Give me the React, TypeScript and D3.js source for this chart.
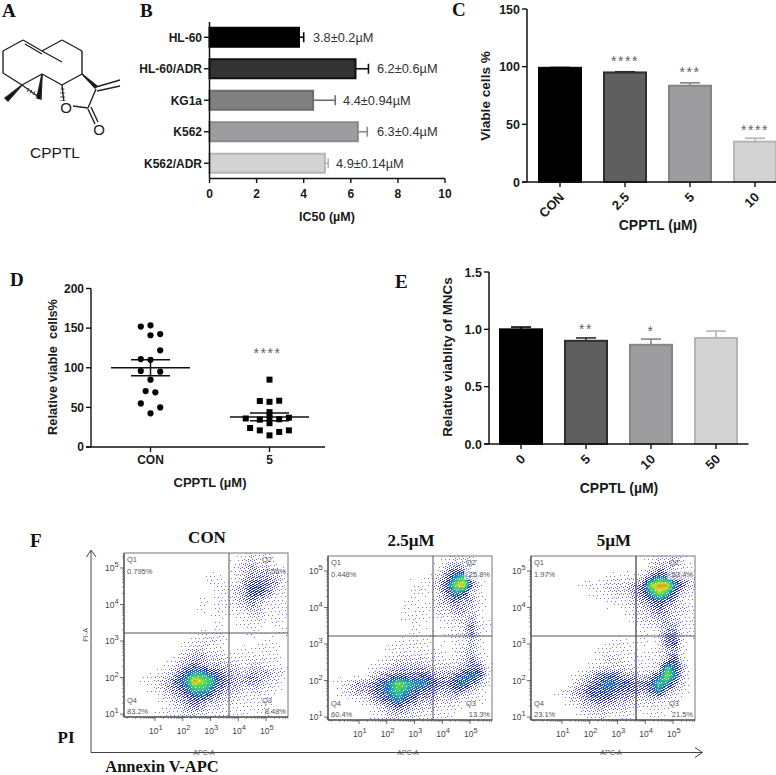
import React, { useMemo } from "react";
import * as d3 from "d3";

const SANS = "'Liberation Sans', Arial, sans-serif";
const SERIF = "'Liberation Serif', 'Times New Roman', serif";

// ---------- data ----------
const icLines = ["HL-60", "HL-60/ADR", "KG1a", "K562", "K562/ADR"];
const icValues = [3.8, 6.2, 4.4, 6.3, 4.9];
const icErrors = [0.2, 0.55, 0.94, 0.4, 0.14];
const icLabels = ["3.8±0.2µM", "6.2±0.6µM", "4.4±0.94µM", "6.3±0.4µM", "4.9±0.14µM"];
const icLabelGaps = [4.39, 7.11, 5.67, 7.11, 5.37];

const viableDoses = ["CON", "2.5", "5", "10"];
const viableValues = [99, 95, 83.5, 35];
const viableErrors = [0.3, 0.6, 2.5, 3];
const viableStars = ["", "****", "***", "****"];
const viableStarLevels = [0, 106, 96, 46];

const relGroups = ["CON", "5"];
const conValues = [152, 153.5, 141, 142.5, 122, 111, 110, 96, 95, 85, 70.6, 69, 55, 50, 42.5];
const conColumns = [-1, 0, 0, 1, 1, -1, 0, -1, 1, 0, -0.5, 0.5, -1, 1, 0];
const cp5Values = [85, 58, 57, 58.4, 44, 36, 34.5, 37, 35, 37, 30, 24, 21, 21, 19, 14.7];
const cp5Columns = [0, -1, 0, 1, 0, -2.45, -1, 0, 1, 2, 0, -2, -1, 2, 1, 0];
const relMeans = [100, 38];
const relSems = [10, 5];

const mncDoses = ["0", "5", "10", "50"];
const mncValues = [1.0, 0.9, 0.865, 0.925];
const mncErrors = [0.02, 0.025, 0.05, 0.06];
const mncStars = ["", "**", "*", ""];
const mncStarLevels = [0, 1.015, 0.995, 0];

const barFills = ["#000000", "#333333", "#808080", "#9d9d9f", "#d3d3d3"];
const barStrokes = ["#000000", "#111111", "#6e6e6e", "#8a8a8c", "#b5b5b5"];
const fiveFills = ["#000000", "#5f5f5f", "#9d9d9f", "#d3d3d3"];
const fiveStrokes = ["#000000", "#2e2e2e", "#858587", "#b5b5b5"];

const flowTitles = ["CON", "2.5µM", "5µM"];
const flowQ1 = ["0.795%", "0.448%", "1.97%"];
const flowQ2 = ["7.56%", "25.8%", "53.4%"];
const flowQ3 = ["8.48%", "13.3%", "21.5%"];
const flowQ4 = ["83.2%", "60.4%", "23.1%"];

// estimated event density (0–9) over a 20×20 grid
const densityCon = [
  "00000000000000121100",
  "00000000000001232210",
  "00000000001001233321",
  "00000000001111344431",
  "00000000000112355421",
  "00000000010112343211",
  "00000000010111232111",
  "00000000000101122111",
  "00000000000100111010",
  "00000000010100011001",
  "00000000112100000100",
  "00000001221100101110",
  "00000012332211111110",
  "00000123432322122110",
  "00001235665433233321",
  "00112356987543343220",
  "00012345776433222110",
  "00001234554322111100",
  "00000123432211111100",
  "00001112221111101100",
];
const density25 = [
  "00000000000000122100",
  "00000000000001343100",
  "00000000000012467310",
  "00000000001113589410",
  "00000000001102465210",
  "00000000011012343310",
  "00000000010112233210",
  "00000000011101122310",
  "00000000001000112411",
  "00000000001010112410",
  "00000000111100011310",
  "00000001111111012310",
  "00000011222211112420",
  "00000112333322223441",
  "00000234444543345651",
  "01233456876654456431",
  "01233456765443343210",
  "00011345654332221110",
  "00000123432221110000",
  "00000112222111100000",
];
const density5 = [
  "00000000000000122210",
  "00000000000000233211",
  "00000000011112465432",
  "00000011122234899642",
  "00000001112234687421",
  "00000000011123454311",
  "00000000000112343221",
  "00000000000012233211",
  "00000000000001123311",
  "00000000000001014411",
  "00000000011101014510",
  "00000000111110113310",
  "00000000122111113510",
  "00000001222211127530",
  "00000123454332358620",
  "00000234565544576420",
  "00012345554443463210",
  "00001234443322221100",
  "00000122322211111000",
  "00000011211110110000",
];
const flowGrids = [densityCon, density25, density5];
const flowLefts = [124, 328, 531];
const flowTops = [553, 556, 556];
const flowDecades = [1, 2, 3, 4, 5];

// skeletal formula (pixel positions of the drawing, panel A)
const ringBonds = [
  [3, 51, 23, 40], [23, 40, 42, 51], [42, 51, 62, 40], [62, 40, 82, 51], [82, 51, 82, 74],
  [82, 74, 62, 85], [62, 85, 42, 74], [42, 74, 22, 85], [22, 85, 3, 73], [3, 73, 3, 51],
  [25, 44, 42, 54], [42, 51, 62, 62], [42, 74, 40, 98], [22, 85, 40, 98],
  [96, 89, 88, 108], [88, 108, 73, 106], [96, 87, 120, 80], [97, 91, 120, 86],
  [88, 109, 95, 124], [91, 107, 98, 122], [62, 85, 64, 103],
];

// ---------- helpers ----------
const T = ({ x, y, s, w = "bold", a = "middle", f = SANS, c = "#1a1a1a", r, ls, children }: any) => (
  <text x={x} y={y} fontSize={s} fontWeight={w} textAnchor={a} fontFamily={f} fill={c} letterSpacing={ls}
    style={{ whiteSpace: "pre" }}
    transform={r !== undefined ? `rotate(${r} ${x} ${y})` : undefined}>{children}</text>
);

function Stars({ x, y, text }: any) {
  return <T x={x} y={y} s={14} c="#626262" w="normal" ls={1.6}>{text}</T>;
}

function VBars({ cats, vals, errs, fills, strokes, x, y, x0, domainTop, ticks, tickFmt, axisRight, sw = 2 }: any) {
  const yb = y(0);
  return (
    <g>
      {cats.map((c: string, i: number) => {
        const cx = x(c)! + x.bandwidth() / 2;
        return (
          <g key={c}>
            <line x1={cx} x2={cx} y1={y(vals[i])} y2={y(vals[i] + errs[i])} stroke={strokes[i]} strokeWidth={1.6} />
            <line x1={cx - 10} x2={cx + 10} y1={y(vals[i] + errs[i])} y2={y(vals[i] + errs[i])} stroke={strokes[i]} strokeWidth={1.6} />
            <rect x={x(c)! + 1} y={y(vals[i])} width={x.bandwidth() - 2} height={yb - y(vals[i])} fill={fills[i]} stroke={strokes[i]} strokeWidth={sw} />
            <line x1={cx} x2={cx} y1={yb} y2={yb + 5} stroke="#111" strokeWidth={1.4} />
            <T x={cx + 5} y={yb + 16} s={13} a="end" r={-45}>{c}</T>
          </g>
        );
      })}
      <line x1={x0} x2={x0} y1={y(domainTop)} y2={yb} stroke="#111" strokeWidth={1.5} />
      <line x1={x0 - 5} x2={axisRight} y1={yb} y2={yb} stroke="#111" strokeWidth={1.5} />
      {ticks.map((t: number) => (
        <g key={t}>
          <line x1={x0 - 5} x2={x0} y1={y(t)} y2={y(t)} stroke="#111" strokeWidth={1.4} />
          <T x={x0 - 7} y={y(t) + 4.5} s={12.5} a="end">{tickFmt(t)}</T>
        </g>
      ))}
    </g>
  );
}

function FlowPlot({ idx }: { idx: number }) {
  const size = 164;
  const left = flowLefts[idx];
  const top = flowTops[idx];
  const grid = flowGrids[idx];
  const xs = d3.scaleLog().domain([Math.pow(10, -0.117), Math.pow(10, 5.79)]).range([left, left + size]);
  const ys = d3.scaleLog().domain([Math.pow(10, 0.92), Math.pow(10, 5.41)]).range([top + size, top]);
  const gridX = d3.scaleLinear().domain([0, size]).range([-0.5, 19.5]);
  const prob = d3.scaleLinear().domain([0, 1, 2, 3, 4, 5, 6, 9]).range([0, 0.07, 0.16, 0.28, 0.44, 0.62, 0.88, 1]).clamp(true);
  const color = d3.scaleLinear<string>()
    .domain([1, 3, 4.5, 5.5, 6.5, 7.5, 8.3, 9])
    .range(["#7d74f0", "#4040dc", "#1a24bc", "#1f6cc8", "#2fb8a4", "#4fd84c", "#d0e030", "#f0901e"])
    .clamp(true);
  const paths = useMemo(() => {
    const groups = new Map<string, string[]>();
    const cell = (r: number, c: number) =>
      +grid[Math.max(0, Math.min(19, r))][Math.max(0, Math.min(19, c))];
    for (let j = 0; j < size; j++) {
      for (let i = 0; i < size; i++) {
        const gx = gridX(i), gy = gridX(j);
        const c0 = Math.floor(gx), r0 = Math.floor(gy);
        const fx = gx - c0, fy = gy - r0;
        const d =
          cell(r0, c0) * (1 - fx) * (1 - fy) + cell(r0, c0 + 1) * fx * (1 - fy) +
          cell(r0 + 1, c0) * (1 - fx) * fy + cell(r0 + 1, c0 + 1) * fx * fy;
        // ordered dither turns the read density into individual pixels
        const thr = (i * 0.7548776662 + j * 0.5698402910) % 1;
        if (prob(d) > thr) {
          const k = color(Math.round(d * 3) / 3);
          if (!groups.has(k)) groups.set(k, []);
          groups.get(k)!.push(`M${left + i} ${top + j}h1v1h-1z`);
        }
      }
    }
    return Array.from(groups.entries()).map(([k, v]) => [k, v.join("")]);
  }, [idx]);

  const vx = left + 105;
  const hy = top + 80;
  const gray = "#555";
  const majorY = flowDecades.map((d) => Math.pow(10, d));
  const minorY = ys.ticks().filter((t) => !majorY.includes(t));
  const minorX = xs.ticks().filter((t) => !majorY.includes(t) && t >= 1);
  return (
    <g>
      <g filter="url(#soft)">
        {paths.map(([k, d]) => <path key={k} d={d} fill={k} />)}
      </g>
      <rect x={left} y={top} width={size} height={size} fill="none" stroke="#777" strokeWidth={1} />
      <line x1={vx} x2={vx} y1={top} y2={top + size} stroke={gray} strokeWidth={idx === 2 ? 1.4 : 1} />
      <line x1={left} x2={left + size} y1={hy} y2={hy} stroke={gray} strokeWidth={1} />
      <line x1={left} x2={left} y1={top} y2={top + size} stroke="#333" strokeWidth={1} />
      <line x1={left} x2={left + size} y1={top + size} y2={top + size} stroke="#333" strokeWidth={1} />
      {minorY.map((t) => <line key={t} x1={left - 2} x2={left} y1={ys(t)} y2={ys(t)} stroke="#555" strokeWidth={0.6} />)}
      {minorX.map((t) => <line key={t} x1={xs(t)} x2={xs(t)} y1={top + size} y2={top + size + 2} stroke="#555" strokeWidth={0.6} />)}
      {majorY.map((t, i) => (
        <g key={t}>
          <line x1={left - 4} x2={left} y1={ys(t)} y2={ys(t)} stroke="#444" strokeWidth={0.8} />
          <line x1={xs(t)} x2={xs(t)} y1={top + size} y2={top + size + 4} stroke="#444" strokeWidth={0.8} />
          <text x={left - 19} y={ys(t) + 3} fontSize={8.5} fontFamily={SANS} fill="#444">10<tspan dy={-4} fontSize={7.5}>{i + 1}</tspan></text>
          <text x={xs(t) - 6} y={top + size + 17} fontSize={8.5} fontFamily={SANS} fill="#444">10<tspan dy={-4} fontSize={7.5}>{i + 1}</tspan></text>
        </g>
      ))}
      {idx > 0 && <rect x={left + 136} y={top + 14} width={27} height={10} fill="#fff" opacity={0.55} />}
      <T x={left + 3} y={top + 9} s={7.5} w="normal" a="start" c="#555">Q1</T>
      <T x={left + 3} y={top + 21} s={7.5} w="normal" a="start" c="#555">{flowQ1[idx]}</T>
      <T x={left + 138} y={top + 9} s={7.5} w="normal" a="start" c="#555">Q2</T>
      <T x={left + 162} y={top + 21} s={7.5} w="normal" a="end" c="#555">{flowQ2[idx]}</T>
      <T x={left + 3} y={top + 150} s={7.5} w="normal" a="start" c="#555">Q4</T>
      <T x={left + 3} y={top + 161} s={7.5} w="normal" a="start" c="#555">{flowQ4[idx]}</T>
      <T x={left + 138} y={top + 150} s={7.5} w="normal" a="start" c="#555">Q3</T>
      <T x={left + 162} y={top + 161} s={7.5} w="normal" a="end" c="#555">{flowQ3[idx]}</T>
      <T x={left + 80} y={755} s={7} w="normal" c="#555">APC-A</T>
      <T x={left + 83} y={top - 10} s={17} f={SERIF} c="#111">{flowTitles[idx]}</T>
    </g>
  );
}

export default function App() {
  // B
  const bx = d3.scaleLinear().domain([0, 10]).range([209.5, 445]);
  const by = d3.scaleBand().domain(icLines).range([21.5, 179]).paddingInner(0.333).paddingOuter(0.167);
  // C
  const cy = d3.scaleLinear().domain([0, 150]).range([182, 9]);
  const cx = d3.scaleBand().domain(viableDoses).range([527.5, 787.5]).paddingInner(0.323).paddingOuter(0.1615);
  // D
  const dy = d3.scaleLinear().domain([0, 200]).range([447, 288.5]);
  const dx = d3.scaleBand().domain(relGroups).range([91, 329]);
  const colStep = 9.7;
  const conPts = conValues.map((v, i) => ({ v, c: conColumns[i] }));
  const cp5Pts = cp5Values.map((v, i) => ({ v, c: cp5Columns[i] }));
  // E
  const ey = d3.scaleLinear().domain([0, 1.5]).range([444, 272]);
  const ex = d3.scaleBand().domain(mncDoses).range([488.5, 748.5]).paddingInner(0.323).paddingOuter(0.1615);

  return (
    <svg width={776} height={775} style={{ position: "absolute", left: 0, top: 0, background: "#fff" }}>
      <defs>
        <filter id="soft" x="-2%" y="-2%" width="104%" height="104%">
          <feGaussianBlur stdDeviation={0.35} />
        </filter>
      </defs>

      {/* panel letters */}
      <T x={2} y={17} s={19} f={SERIF} a="start" c="#111">A</T>
      <T x={140} y={17} s={19} f={SERIF} a="start" c="#111">B</T>
      <T x={452} y={16} s={19} f={SERIF} a="start" c="#111">C</T>
      <T x={10} y={286} s={19} f={SERIF} a="start" c="#111">D</T>
      <T x={395} y={288} s={19} f={SERIF} a="start" c="#111">E</T>
      <T x={30} y={547} s={19} f={SERIF} a="start" c="#111">F</T>

      {/* A */}
      <g stroke="#222" strokeWidth={1.4} fill="none">
        {ringBonds.map((b, i) => <line key={i} x1={b[0]} y1={b[1]} x2={b[2]} y2={b[3]} />)}
        <path d="M22 85 L5 98 L8 101 Z" fill="#111" />
        <path d="M42 74 L37 98 L41 99 Z" fill="#111" />
        <path d="M82 74 L95 88 L97 86 Z" fill="#111" />
        {[0, 1, 2, 3].map((i) => <line key={i} x1={27 + i * 3} x2={29 + i * 3} y1={92 + i * 1.5} y2={88 + i * 1.5} strokeWidth={0.8} />)}
        {[0, 1, 2, 3].map((i) => <line key={`h${i}`} x1={60.5 - i * 0.3} x2={64.5 + i * 0.3} y1={89 + i * 4} y2={89 + i * 4} strokeWidth={0.8} />)}
      </g>
      <rect x={59} y={101} width={14} height={13} fill="#fff" />
      <T x={66} y={113} s={15} w="normal">O</T>
      <T x={99} y={135} s={15} w="normal">O</T>
      <T x={55} y={158} s={15.5} w="normal">CPPTL</T>

      {/* B */}
      {icLines.map((c, i) => {
        const yy = by(c)!, h = by.bandwidth(), m = yy + h / 2;
        return (
          <g key={c}>
            <line x1={bx(icValues[i])} x2={bx(icValues[i] + icErrors[i])} y1={m} y2={m} stroke={barStrokes[i]} strokeWidth={1.6} />
            <line x1={bx(icValues[i] + icErrors[i])} x2={bx(icValues[i] + icErrors[i])} y1={m - 5} y2={m + 5} stroke={barStrokes[i]} strokeWidth={1.6} />
            <rect x={bx(0)} y={yy + 1} width={bx(icValues[i]) - bx(0)} height={h - 2} fill={barFills[i]} stroke={barStrokes[i]} strokeWidth={2} />
            <line x1={204} x2={209.5} y1={m} y2={m} stroke="#111" strokeWidth={1.4} />
            <T x={202} y={m + 4.5} s={12} a="end">{c}</T>
            <T x={bx(icLabelGaps[i])} y={m + 4.5} s={12.8} w="normal" a="start" c="#333">{icLabels[i]}</T>
          </g>
        );
      })}
      <line x1={bx(0)} x2={bx(0)} y1={22} y2={178.5} stroke="#111" strokeWidth={1.5} />
      <line x1={bx(0)} x2={bx(10)} y1={178.5} y2={178.5} stroke="#111" strokeWidth={1.5} />
      {bx.ticks(5).map((t) => (
        <g key={t}>
          <line x1={bx(t)} x2={bx(t)} y1={178.5} y2={183} stroke="#111" strokeWidth={1.4} />
          <T x={bx(t)} y={198} s={12}>{t}</T>
        </g>
      ))}
      <T x={327} y={221} s={12.5}>IC50 (µM)</T>

      {/* C */}
      <VBars cats={viableDoses} vals={viableValues} errs={viableErrors} fills={fiveFills} strokes={fiveStrokes}
        x={cx} y={cy} x0={527} domainTop={150} ticks={[0, 50, 100, 150]} tickFmt={(t: number) => `${t}`} axisRight={776} />
      {viableDoses.map((d, i) => viableStars[i] && <Stars key={d} x={cx(d)! + cx.bandwidth() / 2} y={cy(viableStarLevels[i]) + 6} text={viableStars[i]} />)}
      <T x={490} y={96} s={13.6} r={-90}>Viable cells %</T>
      <T x={658} y={230} s={14}>CPPTL (µM)</T>

      {/* D */}
      <line x1={91} x2={91} y1={dy(200)} y2={dy(0)} stroke="#111" strokeWidth={1.4} />
      <line x1={86} x2={325} y1={dy(0)} y2={dy(0)} stroke="#111" strokeWidth={1.4} />
      {dy.ticks(4).map((t) => (
        <g key={t}>
          <line x1={86} x2={91} y1={dy(t)} y2={dy(t)} stroke="#111" strokeWidth={1.4} />
          <T x={84} y={dy(t) + 4.2} s={12} a="end">{t}</T>
        </g>
      ))}
      {relGroups.map((g, gi) => {
        const c = dx(g)! + dx.bandwidth() / 2;
        const halfMean = 39.5, halfCap = 19.5;
        return (
          <g key={g}>
            <line x1={c} x2={c} y1={dy(0)} y2={dy(0) + 5} stroke="#111" strokeWidth={1.4} />
            <T x={c} y={464} s={12}>{g}</T>
            <line x1={c - halfMean} x2={c + halfMean} y1={dy(relMeans[gi])} y2={dy(relMeans[gi])} stroke="#111" strokeWidth={1.5} />
            <line x1={c} x2={c} y1={dy(relMeans[gi] - relSems[gi])} y2={dy(relMeans[gi] + relSems[gi])} stroke="#111" strokeWidth={1.5} />
            {[-1, 1].map((s) => <line key={s} x1={c - halfCap} x2={c + halfCap} y1={dy(relMeans[gi] + s * relSems[gi])} y2={dy(relMeans[gi] + s * relSems[gi])} stroke="#111" strokeWidth={1.5} />)}
          </g>
        );
      })}
      {conPts.map((p, i) => (
        <circle key={i} cx={dx("CON")! + dx.bandwidth() / 2 + p.c * colStep} cy={dy(p.v)} r={3.1} fill="#000" />
      ))}
      {cp5Pts.map((p, i) => (
        <rect key={i} x={dx("5")! + dx.bandwidth() / 2 + p.c * colStep - 3} y={dy(p.v) - 3} width={6} height={6} fill="#000" />
      ))}
      <Stars x={267.5} y={358} text="****" />
      <T x={57} y={367} s={12.8} r={-90}>{"Relative viable  cells%"}</T>
      <T x={210} y={487} s={13}>CPPTL (µM)</T>

      {/* E */}
      <VBars cats={mncDoses} vals={mncValues} errs={mncErrors} fills={fiveFills} strokes={fiveStrokes}
        x={ex} y={ey} x0={489} domainTop={1.5} ticks={[0, 0.5, 1, 1.5]} tickFmt={(t: number) => t.toFixed(1)} axisRight={748.5} />
      {mncDoses.map((d, i) => mncStars[i] && <Stars key={d} x={ex(d)! + ex.bandwidth() / 2} y={ey(mncStarLevels[i]) + 6} text={mncStars[i]} />)}
      <T x={452} y={357} s={13.4} r={-90}>Relative viablity of MNCs</T>
      <T x={619} y={493} s={14}>CPPTL (µM)</T>

      {/* F */}
      {flowTitles.map((_, i) => <FlowPlot key={i} idx={i} />)}
      <g stroke="#444" strokeWidth={1} fill="none">
        <path d="M91 551 V752.5 H702" />
        <path d="M86.5 557 L91 550 L96 557" />
        <path d="M695 747.5 L702.5 752.5 L695 757.5" />
      </g>
      <T x={88} y={635} s={7} w="normal" c="#555" r={-90}>PI-A</T>
      <T x={66} y={743} s={17} f={SERIF} c="#111">PI</T>
      <T x={162} y={772} s={16.5} f={SERIF} c="#111">Annexin V-APC</T>
    </svg>
  );
}
